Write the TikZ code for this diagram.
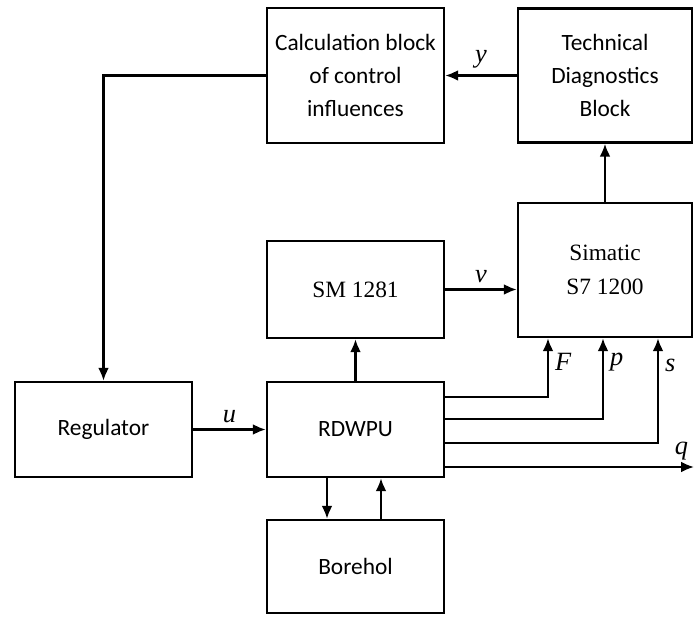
\documentclass[tikz,border=0pt]{standalone}
\usepackage{fontspec}
\setmainfont{Carlito}
\newfontfamily\timesfont{Liberation Serif}
\usetikzlibrary{positioning,arrows.meta}

\tikzset{
  block/.style={draw,line width=1.4pt,minimum width=3.54cm,align=center,
    font=\fontsize{13.3}{19}\selectfont},
  tblock/.style={block,font=\fontsize{13.3}{19}\selectfont\timesfont},
  sig/.style={font=\fontsize{15}{16}\selectfont\timesfont\itshape},
  >={Latex[length=2.6mm,width=2.2mm]}
}

\begin{document}
\begin{tikzpicture}[line width=1.3pt]
\useasboundingbox (0,0) rectangle (13.88,12.32);

% Top row
\node[block,minimum height=2.7cm] (calc) at (7.11,10.81) {Calculation block\\of control\\influences};
\node[block,minimum width=3.48cm,minimum height=2.68cm] (tech) at (12.1,10.81) {Technical\\Diagnostics\\Block};

% Middle row
\node[tblock,minimum height=1.94cm] (sm) at (7.11,6.53) {SM 1281};
\node[tblock,minimum width=3.48cm,minimum height=2.68cm] (sim) at (12.1,6.92) {Simatic\\S7 1200};

% Bottom rows
\node[block,minimum height=1.9cm] (reg) at (2.07,3.73) {Regulator};
\node[block,minimum height=1.9cm] (rdwpu) at (7.11,3.73) {RDWPU};
\node[block,minimum height=1.86cm] (bore) at (7.11,0.99) {Borehol};
\coordinate (qend) at (13.88,2.98);

% Control loop
\draw[->] (tech.west) -- (calc.east) node[sig,midway,above] {y};
\draw[->] (calc.west) -| (reg.north);
\draw[->] (reg.east) -- (rdwpu.west) node[sig,midway,above] {u};
\draw[->] (rdwpu.north) -- (sm.south);
\draw[->] (sm.east) -- (sm.east -| sim.west) node[sig,midway,above] {v};
\draw[->] (sim.north) -- (tech.south);

% Measured values
\draw[->] ([yshift=6.5mm]rdwpu.east) -| ([xshift=-11.4mm]sim.south) node[sig,pos=0.8,right] {F};
\draw[->] ([yshift=2.1mm]rdwpu.east) -| ([xshift=-0.4mm]sim.south) node[sig,pos=0.85,right] {p};
\draw[->] ([yshift=-2.7mm]rdwpu.east) -| ([xshift=10.6mm]sim.south) node[sig,pos=0.87,right] {s};
\draw[->] (rdwpu.east |- qend) -- (qend) node[sig,pos=0.95,above] {q};

% Borehol
\draw[->] ([xshift=-5.7mm]rdwpu.south) -- ([xshift=-5.7mm]bore.north);
\draw[->] ([xshift=5.1mm]bore.north) -- ([xshift=5.1mm]rdwpu.south);
\end{tikzpicture}
\end{document}
